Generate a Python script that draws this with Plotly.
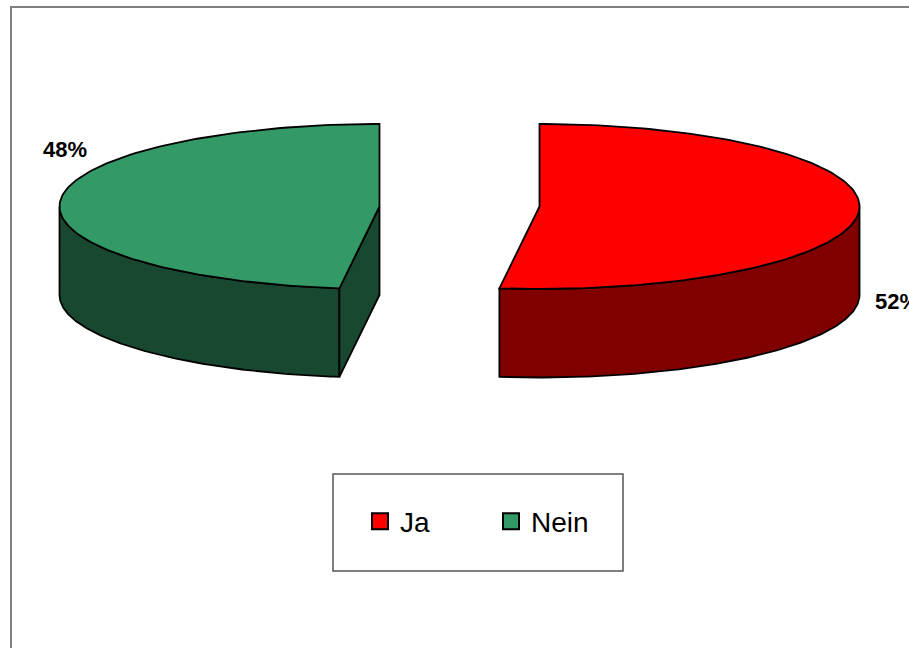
import numpy as np
import plotly.graph_objects as go

categories = ["Ja", "Nein"]
values = [52, 48]
top_colors = ["#FF0000", "#339966"]
side_colors = ["#800000", "#184830"]

# layout of the projected pie, in page pixels
CENTRE_X = [539.5, 379.5]
CENTRE_Y = 206.5
RX, RY = 320, 82.5
DEPTH = 88.5
LINE = dict(color="#000000", width=1.8)


def arc(cx, start, end, dy=0, n=160):
    t = np.radians(np.linspace(start, end, n))
    return cx + RX * np.sin(t), CENTRE_Y - RY * np.cos(t) + dy


def poly(fig, xs, ys, color):
    fig.add_trace(go.Scatter(
        x=list(xs) + [xs[0]], y=list(ys) + [ys[0]], mode="lines",
        fill="toself", fillcolor=color, line=LINE, showlegend=False, hoverinfo="skip",
    ))


fig = go.Figure()
total = sum(values)
start = 0.0
for i, (name, v) in enumerate(zip(categories, values)):
    end = start + 360.0 * v / total
    cx = CENTRE_X[i]
    # visible part of the rim: the part of the arc on the near half of the ellipse
    lo, hi = max(start, 90.0), min(end, 270.0)
    ax, ay = arc(cx, lo, hi)
    bx, by = arc(cx, hi, lo, DEPTH)
    poly(fig, np.r_[ax, bx], np.r_[ay, by], side_colors[i])
    # cut face that turns towards the viewer
    if 90 < start < 270:
        ex, ey = arc(cx, start, start, n=1)
        poly(fig, [cx, ex[0], ex[0], cx], [CENTRE_Y, ey[0], ey[0] + DEPTH, CENTRE_Y + DEPTH], side_colors[i])
    # top face
    tx, ty = arc(cx, start, end)
    poly(fig, np.r_[cx, tx], np.r_[CENTRE_Y, ty], top_colors[i])
    start = end

# percentage labels
label_x = [875, 43]
label_y = [303, 151]
for i, v in enumerate(values):
    fig.add_trace(go.Scatter(
        x=[label_x[i]], y=[label_y[i]], mode="text", text=[f"{v}%"], textposition="middle right",
        textfont=dict(family="Liberation Sans, Arial", size=22, color="#000000"),
        texttemplate="<b>%{text}</b>", showlegend=False, hoverinfo="skip", cliponaxis=False,
    ))

# legend entries
for name, c in zip(categories, top_colors):
    fig.add_trace(go.Scatter(
        x=[None], y=[None], mode="markers", name=name,
        marker=dict(symbol="square", size=16, color=c, line=dict(color="#000000", width=2)),
    ))

fig.update_layout(
    width=909, height=648, margin=dict(l=0, r=0, t=0, b=0),
    paper_bgcolor="#FFFFFF", plot_bgcolor="#FFFFFF",
    xaxis=dict(range=[0, 909], visible=False, domain=[0, 1]),
    yaxis=dict(range=[648, 0], visible=False, domain=[0, 1]),
    shapes=[
        dict(type="rect", x0=11, y0=7, x1=930, y1=680, line=dict(color="#808080", width=2), layer="below"),
        dict(type="rect", x0=333, y0=474, x1=623, y1=571, line=dict(color="#555555", width=1.5), layer="below"),
    ],
    legend=dict(
        orientation="h", x=360 / 909, y=1 - 496.5 / 648, xanchor="left", yanchor="top",
        font=dict(family="Liberation Sans, Arial", size=28, color="#000000"),
        entrywidth=86, entrywidthmode="pixels", bgcolor="rgba(0,0,0,0)", borderwidth=0,
        itemwidth=30,
    ),
    hovermode=False,
)

fig.write_html("out.html", config={"displayModeBar": False}, post_script="document.body.style.margin='0';")
